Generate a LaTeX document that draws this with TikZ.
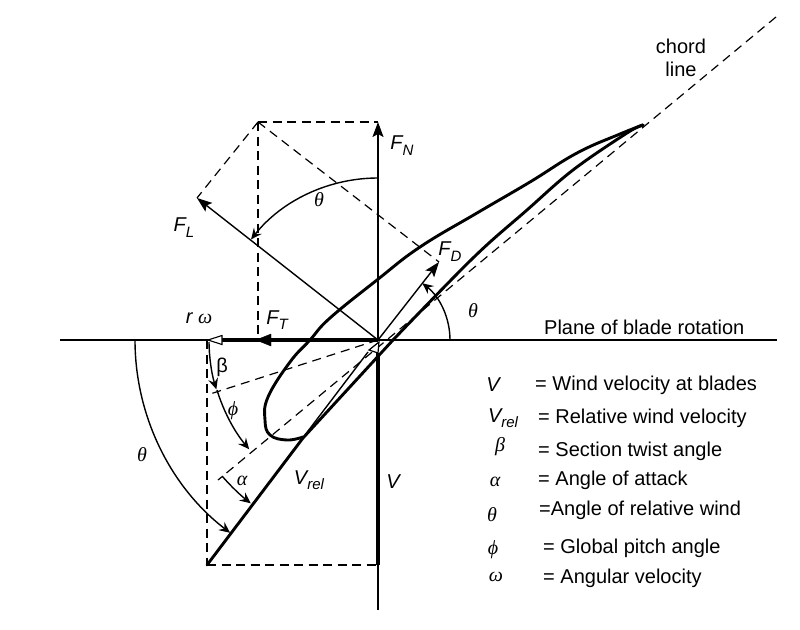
\documentclass[tikz,border=0pt]{standalone}
\usepackage{fontspec}
\setmainfont{Liberation Sans}
\newfontfamily\grk{Liberation Serif}
\usetikzlibrary{arrows.meta}
\newcommand{\subsz}[2]{\raisebox{#1}{\fontsize{15}{15}\selectfont #2}}
\tikzset{
 thinl/.style={line width=1.4pt,black},
 med/.style={line width=1.5pt,black},
 thickl/.style={line width=3.6pt,black},
 blade/.style={line width=2.9pt,black,line cap=round,line join=round},
 dash1/.style={line width=1.3pt,dash pattern=on 9pt off 5.5pt},
 dash2/.style={line width=1.2pt,dash pattern=on 9pt off 6pt},
 farrow/.style={-{Stealth[length=15pt,width=11pt,inset=3pt]}},
 sarrow/.style={-{Stealth[length=11pt,width=10pt,inset=4pt]}},
 lab/.style={inner sep=0pt,font=\fontsize{20}{20}\selectfont\itshape},
 gr/.style={inner sep=0pt,font=\fontsize{20}{20}\selectfont\grk\itshape},
 leg/.style={inner sep=0pt,anchor=west,font=\fontsize{20}{20}\selectfont},
}
\begin{document}
\begin{tikzpicture}[x=1pt,y=-1pt]
\useasboundingbox (0,0) rectangle (800,629);
\coordinate (C) at (378,340);
\coordinate (HL) at (60,340);
\coordinate (HR) at (777,340);
\coordinate (VT) at (378,122);
\coordinate (VB) at (378,610);
\coordinate (VTop) at (378,353);
\coordinate (VBot) at (378,565);
\coordinate (TL) at (258,122);
\coordinate (FLt) at (197,198);
\coordinate (FDt) at (439,262);
\coordinate (FTt) at (258,340);
\coordinate (RW) at (207,340);
\coordinate (BL) at (207,565);
\coordinate (CH1) at (776,17);
\coordinate (CH2) at (218,480);
\coordinate (TW) at (207,395);
\coordinate (Tail) at (643,125);
% thin lines
\draw[thinl] (HL) -- (HR);
\draw[med] (VTop) -- (VB);
\draw[thinl,farrow] (C) -- (VT);
\draw[thinl,farrow] (C) -- (FLt);
\draw[thinl,farrow] (C) -- (FDt);
% dashed
\draw[dash1] (TL) -- (VT);
\draw[dash1] (TL) -- (FTt);
\draw[dash2] (TL) -- (FLt);
\draw[dash2] (TL) -- (FDt);
\draw[dash1] (RW) -- (BL);
\draw[dash1] (BL) -- (VBot);
\draw[dash2] (C) -- (TW);
\draw[dash2] (CH1) -- (CH2);
% thick
\draw[thickl] (VTop) -- (VBot);
\draw[line width=3.4pt] (C) -- (222,340);
\draw[black,fill=black] (256,340) -- (271,334) -- (271,346) -- cycle;
\draw[line width=1.1pt,fill=white] (208,340) -- (222,335.5) -- (222,344.5) -- cycle;
% blade
\draw[blade] (BL) -- (303,438) -- (393,340);
\draw[blade] plot[smooth,tension=0.6] coordinates {(393,340) (473,258) (527,210) (573,170) (627,133) (Tail)};
\draw[blade] plot[smooth,tension=0.7] coordinates {(Tail) (620,134) (577,153) (530,182) (477,213) (420,247) (377,280) (330,318) (310,340) (290,362) (268,397) (265,420) (270,435) (287,440) (303,437)};
\draw[line width=1.4pt] (305,435) -- (368,352);
\draw[line width=1.2pt,fill=white] (379,342) -- (369,350) -- (378,353) -- cycle;
% arcs
\draw[thinl,sarrow] (378,178) arc[start angle=-90,end angle=-141.6,radius=162];
\draw[thinl,sarrow] (450,340) arc[start angle=0,end angle=-52,radius=72];
\draw[thinl,sarrow] (135,340) arc[start angle=180,end angle=127.5,radius=243];
\draw[thinl,sarrow] (209,342) arc[start angle=179.3,end angle=163,radius=169];
\draw[thinl,sarrow] (217,390) arc[start angle=163,end angle=140,radius=169];
\draw[thinl,sarrow] (222,476) arc[start angle=139,end angle=128,radius=207];
% labels
\node[lab] (lrw) at (199,318) {r {\grk ω}};
\node[lab] (lft) at (277,320) {F\subsz{-5pt}{T}};
\node[lab] (lfn) at (402,146) {F\subsz{-6pt}{N}};
\node[lab] (lfl) at (184,228) {F\subsz{-6pt}{L}};
\node[lab] (lfd) at (450,252) {F\subsz{-6pt}{D}};
\node[gr] (lt1) at (319,200) {θ};
\node[gr] (lt2) at (473,311) {θ};
\node[gr] (lt3) at (142,455) {θ};
\node[inner sep=0pt,font=\fontsize{20}{20}\selectfont] (lb) at (222,367) {β};
\node[gr] (lp) at (233,411) {ϕ};
\node[gr] (la) at (242,481) {α};
\node[lab] (lvr) at (309,480) {V\subsz{-5pt}{rel}};
\node[lab] (lv) at (393,482) {V};
\node[leg] (plane) at (544,327) {Plane of blade rotation};
\node[inner sep=0pt,align=center,font=\fontsize{20}{23}\selectfont] (chord) at (681,58) {chord\\line};
% legend
\node[lab] (s1) at (493,385) {V};
\node[lab] (s2) at (503,418) {V\subsz{-5pt}{rel}};
\node[gr] (s3) at (500,447) {β};
\node[gr] (s4) at (495,482) {α};
\node[gr] (s5) at (492,515) {θ};
\node[gr] (s6) at (493,550) {ϕ};
\node[gr] (s7) at (496,577) {ω};
\node[leg] (t1) at (535,385) {= Wind velocity at blades};
\node[leg] (t2) at (538,418) {= Relative wind velocity};
\node[leg] (t3) at (538,451) {= Section twist angle};
\node[leg] (t4) at (538,480) {= Angle of attack};
\node[leg] (t5) at (539,510) {=Angle of relative wind};
\node[leg] (t6) at (543,548) {= Global pitch angle};
\node[leg] (t7) at (543,578) {= Angular velocity};
\end{tikzpicture}
\end{document}
